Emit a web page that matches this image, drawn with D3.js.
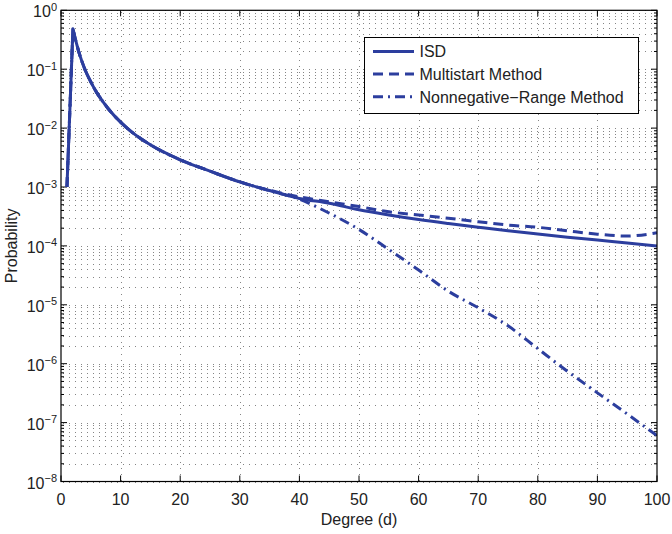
<!DOCTYPE html>
<html>
<head>
<meta charset="utf-8">
<script src="https://cdn.jsdelivr.net/npm/d3@7"></script>
<style>
  body { margin: 0; background: #fff; }
  svg { display: block; font-family: "Liberation Sans", Arial, sans-serif; }
</style>
</head>
<body>
<svg id="chart" width="672" height="534"></svg>
<script>
// ---- data ----
const degrees = [1, 2, 3, 4, 5, 6, 7, 8, 10, 12, 15, 20, 25, 30, 35, 40, 45, 50, 55, 60, 65, 70, 75, 80, 85, 90, 95, 100];
const isd = [1.0e-3, 0.48, 0.195, 0.10, 0.061, 0.040, 0.0285, 0.0209, 0.0126, 0.0084, 0.0052, 0.0029, 0.00186, 0.00122,
  0.00087, 6.4e-4, 5.3e-4, 4.1e-4, 3.35e-4, 2.8e-4, 2.4e-4, 2.08e-4, 1.81e-4, 1.59e-4, 1.40e-4, 1.26e-4, 1.12e-4, 1.0e-4];
const multistart = [1.0e-3, 0.48, 0.195, 0.10, 0.061, 0.040, 0.0285, 0.0209, 0.0126, 0.0084, 0.0052, 0.0029, 0.00186, 0.00122,
  0.00088, 6.8e-4, 5.6e-4, 4.65e-4, 3.8e-4, 3.35e-4, 2.95e-4, 2.57e-4, 2.26e-4, 2.07e-4, 1.80e-4, 1.58e-4, 1.47e-4, 1.67e-4];
const nonnegRange = [1.0e-3, 0.48, 0.195, 0.10, 0.061, 0.040, 0.0285, 0.0209, 0.0126, 0.0084, 0.0052, 0.0029, 0.00186, 0.00122,
  0.00087, 6.2e-4, 3.6e-4, 1.9e-4, 8.7e-5, 3.9e-5, 1.7e-5, 8.9e-6, 4.4e-6, 1.8e-6, 7.4e-7, 3.2e-7, 1.4e-7, 6.0e-8];
const seriesNames = ["ISD", "Multistart Method", "Nonnegative\u2212Range Method"];
const xTicks = [0, 10, 20, 30, 40, 50, 60, 70, 80, 90, 100];
const yExponents = [0, -1, -2, -3, -4, -5, -6, -7, -8];
const xLabel = "Degree (d)";
const yLabel = "Probability";

// ---- layout ----
const W = 672, H = 534;
const m = { left: 61, right: 15, top: 10.3, bottom: 52.5 };
const x = d3.scaleLinear().domain([0, 100]).range([m.left, W - m.right]);
const y = d3.scaleLog().domain([1e-8, 1]).range([H - m.bottom, m.top]);
const color = "#2c3e9e";

const svg = d3.select("#chart");
const x0 = x.range()[0], x1 = x.range()[1], yb = y.range()[0], yt = y.range()[1];

// ---- grid ----
const grid = svg.append("g").attr("stroke", "#666").attr("stroke-width", 0.8)
  .attr("stroke-dasharray", "1,5").attr("shape-rendering", "crispEdges");
const yMinor = [];
for (let e = -8; e < 0; e++) for (let k = 1; k <= 9; k++) yMinor.push(k * Math.pow(10, e));
yMinor.push(1);
grid.selectAll("line.h").data(yMinor).join("line").attr("class", "h")
  .attr("x1", x0 + 2).attr("x2", x1).attr("y1", d => Math.round(y(d)) + 0.5).attr("y2", d => Math.round(y(d)) + 0.5);
grid.selectAll("line.v").data(xTicks.slice(1, -1)).join("line").attr("class", "v")
  .attr("y1", yt + 2).attr("y2", yb).attr("x1", d => Math.round(x(d)) + 0.5).attr("x2", d => Math.round(x(d)) + 0.5);

// ---- axes with inward ticks on all four sides ----
const tickLen = 6, minorLen = 3;
const axG = svg.append("g").attr("stroke", "#000").attr("stroke-width", 1);
xTicks.forEach(t => {
  const xx = x(t);
  axG.append("line").attr("x1", xx).attr("x2", xx).attr("y1", yb).attr("y2", yb - tickLen);
  axG.append("line").attr("x1", xx).attr("x2", xx).attr("y1", yt).attr("y2", yt + tickLen);
});
yMinor.forEach(v => {
  const yy = y(v);
  const isMajor = Math.abs(Math.log10(v) - Math.round(Math.log10(v))) < 1e-9;
  const L = isMajor ? tickLen : minorLen;
  axG.append("line").attr("x1", x0).attr("x2", x0 + L).attr("y1", yy).attr("y2", yy);
  axG.append("line").attr("x1", x1).attr("x2", x1 - L).attr("y1", yy).attr("y2", yy);
});

// ---- tick labels ----
svg.append("g").selectAll("text").data(xTicks).join("text")
  .attr("x", d => x(d)).attr("y", yb + 23).attr("text-anchor", "middle")
  .attr("font-size", 16).attr("fill", "#222").text(d => d);

const yl = svg.append("g").selectAll("text").data(yExponents).join("text")
  .attr("x", 57).attr("y", d => y(Math.pow(10, d)) + 7).attr("text-anchor", "end")
  .attr("font-size", 16).attr("fill", "#222");
yl.append("tspan").text("10");
yl.append("tspan").attr("dy", -6.5).attr("font-size", 11).text(d => d === 0 ? "0" : "\u2212" + Math.abs(d));

// axis titles
svg.append("text").attr("x", (x0 + x1) / 2).attr("y", 525).attr("text-anchor", "middle")
  .attr("font-size", 16).attr("fill", "#222").text(xLabel);
svg.append("text").attr("transform", `translate(17,${(yt + yb) / 2}) rotate(-90)`)
  .attr("text-anchor", "middle").attr("font-size", 16).attr("fill", "#222").text(yLabel);

// ---- lines ----
function pathFor(vals) {
  const pts = degrees.map((d, i) => [x(d), y(vals[i])]);
  const smooth = d3.line().curve(d3.curveMonotoneX)(pts.slice(1));
  return `M${pts[0][0]},${pts[0][1]}L` + smooth.slice(1);
}
svg.append("clipPath").attr("id", "clip").append("rect")
  .attr("x", x0).attr("y", yt).attr("width", x1 - x0).attr("height", yb - yt);
const lines = svg.append("g").attr("clip-path", "url(#clip)").attr("fill", "none")
  .attr("stroke", color).attr("stroke-width", 3).attr("stroke-linejoin", "round");
const dashes = [null, "10,6", "10,5,2,5"];
lines.append("path").attr("d", pathFor(nonnegRange)).attr("stroke-dasharray", dashes[2]);
lines.append("path").attr("d", pathFor(multistart)).attr("stroke-dasharray", dashes[1]);
lines.append("path").attr("d", pathFor(isd));

// ---- axes box ----
svg.append("rect").attr("x", x0).attr("y", yt).attr("width", x1 - x0).attr("height", yb - yt)
  .attr("fill", "none").attr("stroke", "#000").attr("stroke-width", 1.2);

// ---- legend ----
const lg = svg.append("g");
lg.append("rect").attr("x", 364.5).attr("y", 37.5).attr("width", 274).attr("height", 76)
  .attr("fill", "#fff").attr("stroke", "#000").attr("stroke-width", 1);
const rowY = [51.5, 74, 96.8];
seriesNames.forEach((name, i) => {
  lg.append("line").attr("x1", 373).attr("x2", 414).attr("y1", rowY[i]).attr("y2", rowY[i])
    .attr("stroke", color).attr("stroke-width", 3).attr("stroke-dasharray", dashes[i]);
  lg.append("text").attr("x", 419.5).attr("y", rowY[i] + 5.8).attr("font-size", 16)
    .attr("fill", "#222").text(name);
});
</script>
</body>
</html>
